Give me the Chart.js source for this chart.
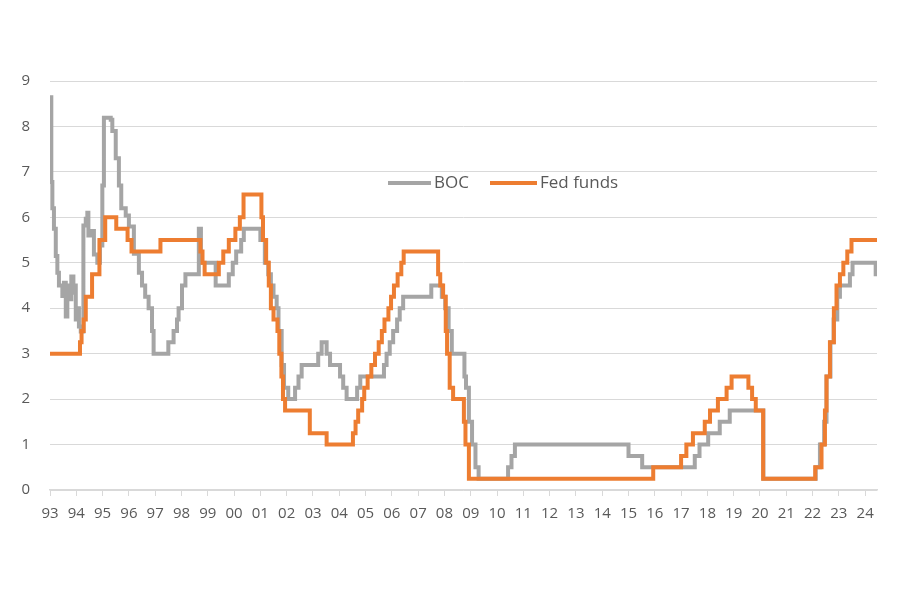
<!DOCTYPE html>
<html>
<head>
<meta charset="utf-8">
<script src="https://cdn.jsdelivr.net/npm/chart.js@4/dist/chart.umd.min.js"></script>
<style>
  html, body { margin: 0; padding: 0; background: #fff; }
  #wrap { width: 900px; height: 600px; }
</style>
</head>
<body>
<div id="wrap"><canvas id="rates"></canvas></div>
<script>
// Rate change points (decimal year, new level in %)
const bocDates = [
  1993.00, 1993.05, 1993.09, 1993.15, 1993.22, 1993.28, 1993.34, 1993.47, 1993.53, 1993.60,
  1993.66, 1993.72, 1993.81, 1993.89, 1993.94, 1993.98, 1994.04, 1994.10, 1994.17, 1994.27,
  1994.36, 1994.42, 1994.46, 1994.55, 1994.67, 1994.80, 1994.90, 1994.99, 1995.05, 1995.31,
  1995.37, 1995.50, 1995.62, 1995.71, 1995.88, 1996.00, 1996.19, 1996.38, 1996.50, 1996.62,
  1996.75, 1996.88, 1996.94, 1997.50, 1997.70, 1997.83, 1997.89, 1998.02, 1998.15, 1998.66,
  1998.74, 1999.30, 1999.80, 1999.95, 2000.08, 2000.27, 2000.37, 2001.00, 2001.17, 2001.30,
  2001.40, 2001.50, 2001.62, 2001.69, 2001.81, 2001.90, 2002.06, 2002.32, 2002.45, 2002.57,
  2003.20, 2003.33, 2003.52, 2003.65, 2004.03, 2004.15, 2004.28, 2004.68, 2004.80, 2005.70,
  2005.80, 2005.92, 2006.05, 2006.20, 2006.30, 2006.43, 2007.50, 2007.90, 2008.03, 2008.16,
  2008.28, 2008.76, 2008.82, 2008.93, 2009.05, 2009.18, 2009.30, 2010.42, 2010.55, 2010.68,
  2015.00, 2015.52, 2017.52, 2017.70, 2018.03, 2018.47, 2018.85, 2020.13, 2022.12, 2022.28,
  2022.44, 2022.53, 2022.68, 2022.80, 2022.94, 2023.04, 2023.42, 2023.52, 2024.40, 2024.45
];
const bocRates = [
  8.64, 6.78, 6.20, 5.75, 5.15, 4.78, 4.50, 4.27, 4.56, 3.82,
  4.50, 4.20, 4.70, 4.34, 4.50, 3.75, 4.00, 3.60, 3.49, 5.82,
  5.97, 6.10, 5.60, 5.70, 5.18, 5.00, 5.38, 6.70, 8.19, 8.15,
  7.90, 7.30, 6.70, 6.20, 6.04, 5.80, 5.20, 4.78, 4.50, 4.25,
  4.00, 3.50, 3.00, 3.25, 3.50, 3.75, 4.00, 4.50, 4.75, 5.75,
  5.00, 4.50, 4.75, 5.00, 5.25, 5.50, 5.75, 5.50, 5.00, 4.75,
  4.50, 4.25, 4.00, 3.50, 2.75, 2.25, 2.00, 2.25, 2.50, 2.75,
  3.00, 3.25, 3.00, 2.75, 2.50, 2.25, 2.00, 2.25, 2.50, 2.75,
  3.00, 3.25, 3.50, 3.75, 4.00, 4.25, 4.50, 4.25, 4.00, 3.50,
  3.00, 2.50, 2.25, 1.50, 1.00, 0.50, 0.25, 0.50, 0.75, 1.00,
  0.75, 0.50, 0.75, 1.00, 1.25, 1.50, 1.75, 0.25, 0.50, 1.00,
  1.50, 2.50, 3.25, 3.75, 4.25, 4.50, 4.75, 5.00, 4.75, 4.75
];

const fedDates = [
  1993.00, 1994.14, 1994.20, 1994.28, 1994.36, 1994.60, 1994.88, 1995.10, 1995.52, 1995.95,
  1996.10, 1997.20, 1998.72, 1998.80, 1998.88, 1999.42, 1999.59, 1999.80, 2000.05, 2000.22,
  2000.36, 2001.04, 2001.10, 2001.22, 2001.32, 2001.40, 2001.50, 2001.65, 2001.72, 2001.80,
  2001.86, 2001.94, 2002.88, 2003.52, 2004.52, 2004.62, 2004.72, 2004.87, 2004.95, 2005.08,
  2005.22, 2005.36, 2005.50, 2005.62, 2005.72, 2005.87, 2005.97, 2006.08, 2006.22, 2006.36,
  2006.45, 2007.76, 2007.84, 2007.95, 2008.05, 2008.10, 2008.20, 2008.33, 2008.74, 2008.80,
  2008.93, 2015.94, 2017.00, 2017.20, 2017.45, 2017.90, 2018.10, 2018.40, 2018.73, 2018.92,
  2019.56, 2019.70, 2019.84, 2020.12, 2022.10, 2022.34, 2022.47, 2022.53, 2022.66, 2022.81,
  2022.91, 2023.04, 2023.17, 2023.32, 2023.48, 2024.45
];
const fedRates = [
  3.00, 3.25, 3.50, 3.75, 4.25, 4.75, 5.50, 6.00, 5.75, 5.50,
  5.25, 5.50, 5.25, 5.00, 4.75, 5.00, 5.25, 5.50, 5.75, 6.00,
  6.50, 6.00, 5.50, 5.00, 4.50, 4.00, 3.75, 3.50, 3.00, 2.50,
  2.00, 1.75, 1.25, 1.00, 1.25, 1.50, 1.75, 2.00, 2.25, 2.50,
  2.75, 3.00, 3.25, 3.50, 3.75, 4.00, 4.25, 4.50, 4.75, 5.00,
  5.25, 4.75, 4.50, 4.25, 3.50, 3.00, 2.25, 2.00, 1.50, 1.00,
  0.25, 0.50, 0.75, 1.00, 1.25, 1.50, 1.75, 2.00, 2.25, 2.50,
  2.25, 2.00, 1.75, 0.25, 0.50, 1.00, 1.75, 2.50, 3.25, 4.00,
  4.50, 4.75, 5.00, 5.25, 5.50, 5.50
];

const yearStart = 1993;
const yearEnd = 2024.45;
const yTicksMax = 9;

const GRAY = '#a5a5a5';
const ORANGE = '#ed7d31';
const TEXT = '#595959';
const FONT = "'Open Sans', 'Liberation Sans', sans-serif";

function toPoints(xs, ys) {
  return xs.map((x, i) => ({ x: x, y: ys[i] }));
}

// legend drawn inside the plot, like the Excel original
const floatingLegend = {
  id: 'floatingLegend',
  afterDraw(chart) {
    const ctx = chart.ctx;
    const items = [
      { label: 'BOC', color: GRAY, x: 388, len: 43 },
      { label: 'Fed funds', color: ORANGE, x: 490, len: 47 }
    ];
    const y = 183;
    ctx.save();
    ctx.font = `17px ${FONT}`;
    ctx.textBaseline = 'middle';
    ctx.textAlign = 'left';
    items.forEach(item => {
      ctx.strokeStyle = item.color;
      ctx.lineWidth = 4;
      ctx.beginPath();
      ctx.moveTo(item.x, y);
      ctx.lineTo(item.x + item.len, y);
      ctx.stroke();
      ctx.fillStyle = TEXT;
      ctx.fillText(item.label, item.x + item.len + 3, y);
    });
    ctx.restore();
  }
};

const ctx = document.getElementById('rates').getContext('2d');
new Chart(ctx, {
  type: 'line',
  data: {
    datasets: [
      {
        label: 'BOC',
        data: toPoints(bocDates, bocRates),
        borderColor: GRAY,
        borderWidth: 4,
        pointRadius: 0,
        stepped: true,
        fill: false,
        order: 2
      },
      {
        label: 'Fed funds',
        data: toPoints(fedDates, fedRates),
        borderColor: ORANGE,
        borderWidth: 4,
        pointRadius: 0,
        stepped: true,
        fill: false,
        order: 1
      }
    ]
  },
  options: {
    responsive: true,
    maintainAspectRatio: false,
    animation: false,
    layout: {
      padding: { top: 81, right: 23, bottom: 0, left: 0 }
    },
    plugins: {
      legend: { display: false },
      tooltip: { enabled: false }
    },
    scales: {
      x: {
        type: 'linear',
        min: yearStart,
        max: yearEnd,
        afterFit(scale) { scale.height = 110; },
        afterBuildTicks(scale) {
          const ticks = [];
          for (let yr = yearStart; yr <= Math.floor(yearEnd); yr++) ticks.push({ value: yr });
          scale.ticks = ticks;
        },
        ticks: {
          autoSkip: false,
          maxRotation: 0,
          padding: 9,
          color: TEXT,
          font: { family: FONT, size: 15 },
          callback: v => String(v % 100).padStart(2, '0')
        },
        grid: {
          drawOnChartArea: false,
          drawTicks: true,
          tickLength: 6,
          color: '#d9d9d9',
          lineWidth: 1
        },
        border: { display: true, color: '#d9d9d9', width: 1.5 }
      },
      y: {
        min: 0,
        max: yTicksMax,
        afterFit(scale) { scale.width = 50; },
        ticks: {
          stepSize: 1,
          padding: 20,
          color: TEXT,
          font: { family: FONT, size: 15 }
        },
        grid: {
          drawTicks: false,
          color: '#d9d9d9',
          lineWidth: 1
        },
        border: { display: false }
      }
    }
  },
  plugins: [floatingLegend]
});
</script>
</body>
</html>
